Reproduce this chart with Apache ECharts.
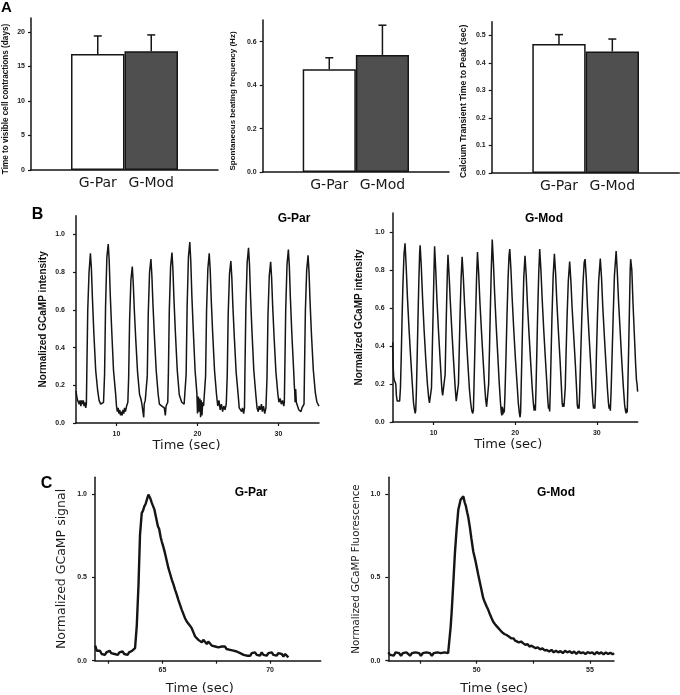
<!DOCTYPE html>
<html><head><meta charset="utf-8">
<script src="https://cdn.jsdelivr.net/npm/echarts@6/dist/echarts.min.js"></script>
<style>html,body{margin:0;padding:0;background:#fff}#c{width:680px;height:695px}</style>
</head><body><div id="c"></div>
<script>
// ---------- DATA ----------
const barCategories = ['G-Par', 'G-Mod'];
const daysMean = [16.8, 17.2];
const daysErr = [2.6, 2.35];
const freqMean = [0.473, 0.539];
const freqErr = [0.053, 0.137];
const peakMean = [0.469, 0.442];
const peakErr = [0.034, 0.045];

const daysTicks = [0, 5, 10, 15, 20];
const freqTicks = [0, 0.2, 0.4, 0.6];
const peakTicks = [0, 0.1, 0.2, 0.3, 0.4, 0.5];
const trainYTicks = [0, 0.2, 0.4, 0.6, 0.8, 1.0];
const trainXTicks = [10, 20, 30];
const singleYTicks = [0, 0.5, 1.0];
const parSingleXLabels = [65, 70];
const parSingleXTicks = [62.5, 65, 67.5, 70];
const modSingleXLabels = [50, 55];
const modSingleXTicks = [47.5, 50, 52.5, 55];

// G-Par beating trace [time s, normalized intensity]
const parTrain = [
[5.0,0.17],[5.1,0.14],[5.2,0.12],[5.3,0.13],[5.4,0.10],[5.5,0.12],[5.6,0.09],[5.7,0.12],[5.8,0.10],[5.9,0.12],[6.0,0.09],[6.1,0.11],[6.2,0.08],[6.28,0.10],
[6.33,0.25],[6.45,0.60],[6.61,0.80],[6.78,0.90],[6.9,0.82],[7.03,0.66],[7.2,0.48],[7.43,0.28],[7.68,0.17],[7.85,0.12],[7.95,0.12],[8.05,0.10],[8.15,0.11],[8.25,0.09],[8.4,0.11],
[8.53,0.26],[8.65,0.62],[8.81,0.88],[8.98,0.95],[9.1,0.86],[9.23,0.68],[9.4,0.50],[9.63,0.28],[9.88,0.16],[10.0,0.09],[10.1,0.06],[10.2,0.08],[10.3,0.05],[10.4,0.07],[10.5,0.04],[10.6,0.06],[10.7,0.04],[10.8,0.07],[10.9,0.05],[11.0,0.08],[11.1,0.06],[11.25,0.09],[11.4,0.11],
[11.5,0.24],[11.62,0.55],[11.78,0.76],[11.95,0.83],[12.07,0.74],[12.2,0.60],[12.37,0.45],[12.6,0.27],[12.85,0.15],[13.0,0.13],[13.1,0.11],[13.2,0.12],[13.3,0.10],[13.36,0.03],[13.42,0.10],[13.55,0.12],[13.7,0.11],
[13.8,0.25],[13.92,0.58],[14.08,0.80],[14.25,0.87],[14.37,0.78],[14.5,0.63],[14.67,0.47],[14.9,0.28],[15.15,0.15],[15.3,0.10],[15.45,0.11],[15.6,0.09],[15.75,0.10],[15.9,0.08],[16.03,0.04],[16.12,0.09],[16.25,0.10],[16.33,0.11],
[16.4,0.25],[16.52,0.60],[16.68,0.83],[16.85,0.905],[16.97,0.81],[17.1,0.65],[17.27,0.48],[17.5,0.28],[17.75,0.15],[17.9,0.13],[18.05,0.11],[18.2,0.12],[18.35,0.10],[18.5,0.11],
[18.6,0.26],[18.72,0.62],[18.88,0.88],[19.05,0.96],[19.17,0.86],[19.3,0.68],[19.47,0.50],[19.7,0.28],[19.92,0.16],[20.0,0.05],[20.1,0.14],[20.2,0.06],[20.3,0.13],[20.38,0.03],[20.45,0.12],[20.55,0.04],[20.65,0.11],[20.75,0.09],[20.9,0.10],
[21.0,0.25],[21.12,0.60],[21.28,0.82],[21.45,0.90],[21.57,0.81],[21.7,0.65],[21.87,0.48],[22.1,0.28],[22.35,0.15],[22.5,0.09],[22.65,0.12],[22.8,0.07],[22.95,0.10],[23.1,0.06],[23.25,0.09],[23.4,0.07],[23.55,0.10],
[23.67,0.25],[23.79,0.58],[23.95,0.79],[24.12,0.86],[24.24,0.77],[24.37,0.62],[24.54,0.46],[24.77,0.27],[25.02,0.15],[25.15,0.08],[25.3,0.09],[25.45,0.06],[25.55,0.08],[25.7,0.05],[25.8,0.08],
[25.85,0.25],[25.97,0.61],[26.13,0.85],[26.3,0.93],[26.42,0.84],[26.55,0.67],[26.72,0.49],[26.95,0.28],[27.2,0.15],[27.35,0.08],[27.5,0.06],[27.6,0.09],[27.75,0.07],[27.9,0.10],[28.0,0.06],[28.15,0.09],[28.3,0.05],[28.45,0.08],[28.52,0.07],
[28.58,0.24],[28.7,0.57],[28.86,0.78],[29.03,0.855],[29.15,0.77],[29.28,0.62],[29.45,0.46],[29.68,0.27],[29.93,0.15],[30.05,0.11],[30.2,0.13],[30.35,0.10],[30.5,0.12],[30.65,0.09],[30.72,0.11],
[30.77,0.25],[30.89,0.60],[31.05,0.84],[31.22,0.92],[31.34,0.83],[31.47,0.66],[31.64,0.48],[31.87,0.28],[31.95,0.20],[32.0,0.17],[32.05,0.11],[32.12,0.18],[32.2,0.11],[32.35,0.09],[32.5,0.07],[32.65,0.08],[32.76,0.06],[32.9,0.08],[33.05,0.09],[33.15,0.10],
[33.2,0.25],[33.32,0.60],[33.48,0.81],[33.65,0.89],[33.77,0.80],[33.9,0.64],[34.07,0.47],[34.3,0.28],[34.55,0.16],[34.75,0.11],[34.9,0.10],[35.0,0.09]
];

// G-Mod beating trace [time s, normalized intensity]
const modTrain = [
[5.0,0.42],[5.05,0.30],[5.12,0.24],[5.2,0.22],[5.3,0.21],[5.38,0.20],[5.45,0.14],[5.55,0.11],[5.65,0.12],[5.75,0.10],[5.85,0.11],
[5.95,0.18],[6.05,0.35],[6.15,0.55],[6.25,0.72],[6.38,0.88],[6.51,0.94],[6.65,0.82],[6.8,0.66],[7.0,0.49],[7.2,0.34],[7.4,0.20],[7.55,0.10],[7.65,0.07],[7.75,0.045],[7.82,0.06],
[7.9,0.16],[8.0,0.35],[8.1,0.55],[8.2,0.74],[8.3,0.89],[8.36,0.93],[8.5,0.82],[8.65,0.66],[8.85,0.48],[9.05,0.33],[9.25,0.20],[9.4,0.13],[9.5,0.10],[9.6,0.11],[9.68,0.09],
[9.75,0.18],[9.85,0.38],[9.95,0.58],[10.05,0.78],[10.13,0.925],[10.27,0.80],[10.42,0.64],[10.62,0.47],[10.82,0.32],[10.98,0.20],[11.05,0.16],[11.12,0.14],[11.2,0.15],[11.28,0.13],[11.35,0.14],
[11.42,0.25],[11.5,0.42],[11.6,0.62],[11.7,0.80],[11.77,0.88],[11.92,0.76],[12.07,0.62],[12.27,0.46],[12.47,0.31],[12.65,0.18],[12.78,0.11],[12.86,0.10],[12.95,0.11],
[13.05,0.20],[13.15,0.38],[13.25,0.57],[13.38,0.76],[13.5,0.87],[13.65,0.76],[13.8,0.62],[14.0,0.46],[14.2,0.31],[14.4,0.17],[14.55,0.10],[14.68,0.06],[14.8,0.045],[14.88,0.06],
[14.95,0.18],[15.05,0.36],[15.15,0.55],[15.27,0.76],[15.38,0.895],[15.53,0.78],[15.68,0.63],[15.88,0.47],[16.08,0.32],[16.25,0.20],[16.38,0.12],[16.5,0.08],[16.6,0.09],[16.68,0.08],
[16.75,0.20],[16.85,0.38],[16.95,0.58],[17.07,0.80],[17.19,0.96],[17.33,0.84],[17.48,0.68],[17.68,0.50],[17.88,0.34],[18.05,0.20],[18.2,0.10],[18.3,0.05],[18.36,0.035],[18.42,0.08],[18.5,0.04],[18.58,0.07],[18.66,0.05],
[18.75,0.15],[18.87,0.34],[18.99,0.55],[19.13,0.76],[19.25,0.88],[19.34,0.91],[19.48,0.80],[19.63,0.65],[19.83,0.48],[20.03,0.33],[20.23,0.20],[20.38,0.10],[20.5,0.05],[20.6,0.025],[20.66,0.05],
[20.73,0.18],[20.83,0.37],[20.93,0.56],[21.05,0.76],[21.2,0.875],[21.35,0.77],[21.5,0.62],[21.7,0.46],[21.9,0.31],[22.08,0.18],[22.22,0.10],[22.32,0.06],[22.4,0.09],[22.47,0.06],
[22.55,0.18],[22.65,0.37],[22.75,0.57],[22.88,0.78],[23.0,0.91],[23.15,0.80],[23.3,0.65],[23.5,0.48],[23.7,0.33],[23.88,0.20],[24.0,0.11],[24.08,0.07],[24.15,0.09],[24.22,0.055],
[24.3,0.17],[24.4,0.36],[24.5,0.55],[24.65,0.77],[24.8,0.885],[24.95,0.78],[25.1,0.63],[25.3,0.47],[25.5,0.32],[25.65,0.19],[25.75,0.10],[25.82,0.08],[25.9,0.10],[25.97,0.08],[26.05,0.09],
[26.13,0.18],[26.23,0.36],[26.35,0.55],[26.5,0.74],[26.67,0.845],[26.82,0.74],[26.97,0.60],[27.17,0.45],[27.37,0.30],[27.52,0.17],[27.6,0.09],[27.68,0.07],[27.75,0.09],[27.82,0.07],
[27.9,0.16],[28.02,0.35],[28.15,0.54],[28.3,0.73],[28.45,0.84],[28.56,0.857],[28.7,0.76],[28.85,0.61],[29.05,0.45],[29.25,0.30],[29.42,0.17],[29.52,0.10],[29.6,0.07],[29.68,0.09],[29.75,0.07],
[29.85,0.17],[29.95,0.36],[30.07,0.55],[30.22,0.74],[30.42,0.86],[30.57,0.76],[30.72,0.61],[30.92,0.45],[31.12,0.30],[31.3,0.17],[31.42,0.10],[31.5,0.07],[31.58,0.09],[31.65,0.06],
[31.75,0.17],[31.87,0.36],[32.0,0.56],[32.15,0.77],[32.36,0.90],[32.5,0.79],[32.65,0.64],[32.85,0.48],[33.05,0.32],[33.25,0.18],[33.4,0.09],[33.5,0.06],[33.58,0.045],[33.65,0.07],[33.72,0.05],
[33.8,0.20],[33.9,0.40],[34.0,0.62],[34.08,0.80],[34.14,0.857],[34.28,0.80],[34.43,0.62],[34.6,0.45],[34.75,0.30],[34.85,0.22],[34.92,0.20],[34.97,0.17],[35.0,0.16]
];

// Single transients [time s, normalized signal]
const parSingle = [
[61.88,0.09],[61.95,0.06],[62.02,0.05],[62.1,0.06],[62.18,0.04],[62.25,0.05],[62.33,0.035],[62.4,0.05],[62.48,0.04],[62.55,0.06],[62.62,0.045],[62.7,0.055],[62.78,0.04],[62.85,0.05],[62.93,0.035],[63.0,0.05],[63.08,0.04],[63.15,0.055],[63.23,0.04],[63.3,0.05],[63.38,0.035],[63.45,0.05],[63.53,0.045],[63.6,0.06],[63.68,0.05],
[63.73,0.075],[63.81,0.21],[63.89,0.455],[63.96,0.755],[64.04,0.885],[64.1,0.90],[64.16,0.926],[64.22,0.94],[64.28,0.966],[64.35,0.996],[64.43,0.976],[64.5,0.95],[64.54,0.936],[64.63,0.906],[64.71,0.856],[64.79,0.806],[64.85,0.79],[64.92,0.74],[64.97,0.715],
[65.05,0.68],[65.12,0.645],[65.2,0.60],[65.28,0.555],[65.36,0.52],[65.44,0.485],[65.52,0.455],[65.59,0.425],[65.67,0.395],[65.74,0.365],[65.82,0.335],[65.9,0.305],[65.95,0.30],[66.05,0.255],[66.1,0.26],[66.13,0.235],[66.21,0.225],[66.28,0.21],[66.36,0.195],[66.44,0.17],[66.52,0.145],
[66.6,0.14],[66.67,0.125],[66.75,0.13],[66.83,0.11],[66.9,0.125],[66.98,0.115],[67.06,0.10],[67.13,0.115],[67.21,0.105],[67.3,0.09],[67.37,0.10],[67.45,0.085],[67.53,0.095],[67.6,0.08],[67.68,0.09],[67.76,0.085],[67.84,0.075],[67.91,0.085],[67.98,0.07],[68.06,0.075],[68.14,0.065],[68.22,0.075],[68.3,0.06],[68.38,0.07],[68.45,0.055],
[68.53,0.05],[68.61,0.045],[68.69,0.044],[68.77,0.035],[68.84,0.045],[68.92,0.03],[69.0,0.04],[69.08,0.03],[69.15,0.045],[69.23,0.035],[69.3,0.05],[69.38,0.035],[69.46,0.045],[69.53,0.03],[69.61,0.05],[69.69,0.035],[69.77,0.045],[69.84,0.03],[69.92,0.045],[70.0,0.035],[70.08,0.05],[70.15,0.035],[70.23,0.045],[70.31,0.03],[70.38,0.045],[70.46,0.035],[70.54,0.04],[70.62,0.025],[70.7,0.04],[70.77,0.03],[70.85,0.02]
];
const modSingle = [
[46.1,0.05],[46.18,0.035],[46.26,0.045],[46.34,0.03],[46.42,0.05],[46.5,0.04],[46.58,0.045],[46.66,0.03],[46.74,0.045],[46.82,0.035],[46.9,0.05],[46.98,0.04],[47.06,0.03],[47.14,0.045],[47.22,0.035],[47.3,0.05],[47.38,0.04],[47.46,0.045],[47.54,0.03],[47.62,0.045],[47.7,0.035],[47.78,0.05],[47.86,0.04],[47.94,0.045],[48.02,0.03],[48.1,0.045],[48.18,0.035],[48.26,0.05],[48.34,0.04],[48.42,0.045],[48.5,0.035],[48.58,0.05],[48.66,0.04],[48.74,0.045],[48.79,0.05],
[48.85,0.20],[48.9,0.30],[48.97,0.47],[49.04,0.645],[49.11,0.78],[49.19,0.906],[49.29,0.965],[49.35,0.975],[49.41,0.986],[49.47,0.95],[49.52,0.93],[49.58,0.89],[49.63,0.86],[49.7,0.80],[49.77,0.73],[49.85,0.655],[49.92,0.615],[49.96,0.59],
[50.07,0.515],[50.14,0.47],[50.22,0.42],[50.29,0.375],[50.36,0.35],[50.44,0.325],[50.51,0.305],[50.58,0.28],[50.66,0.255],[50.73,0.234],[50.83,0.215],[50.93,0.20],[51.03,0.184],[51.13,0.17],[51.22,0.16],[51.32,0.154],[51.42,0.145],[51.52,0.135],[51.62,0.134],[51.7,0.12],[51.78,0.125],[51.86,0.11],[51.96,0.115],
[52.06,0.104],[52.15,0.095],[52.24,0.10],[52.33,0.085],[52.42,0.09],[52.5,0.084],[52.6,0.075],[52.7,0.08],[52.8,0.068],[52.9,0.074],[53.0,0.062],[53.09,0.064],[53.2,0.055],[53.3,0.065],[53.4,0.05],[53.5,0.06],[53.6,0.05],[53.7,0.058],[53.8,0.045],[53.9,0.06],
[54.0,0.05],[54.1,0.057],[54.2,0.045],[54.3,0.055],[54.4,0.04],[54.5,0.055],[54.6,0.045],[54.7,0.05],[54.8,0.04],[54.9,0.052],[55.0,0.045],[55.1,0.05],[55.2,0.038],[55.3,0.052],[55.4,0.042],[55.5,0.05],[55.6,0.038],[55.7,0.05],[55.8,0.04],[55.9,0.048],[56.0,0.038],[56.06,0.045]
];

// ---------- BUILD ----------
const SANS = 'Liberation Sans';
const INK = '#151515';
const axisLine = { show: true, lineStyle: { color: INK, width: 1.5 } };
const tickStyle = { color: INK, width: 1.2 };
const fmtInt = v => String(v);
const fmt1 = v => v.toFixed(1);

const grids = [], xAxes = [], yAxes = [], series = [];

function errRender(params, api) {
  const x = api.value(0);
  const p0 = api.coord([x, api.value(1)]);
  const p1 = api.coord([x, api.value(2)]);
  const s = { stroke: INK, lineWidth: 1.5 };
  return { type: 'group', children: [
    { type: 'line', shape: { x1: p0[0], y1: p0[1], x2: p1[0], y2: p1[1] }, style: s },
    { type: 'line', shape: { x1: p1[0] - 4, y1: p1[1], x2: p1[0] + 4, y2: p1[1] }, style: s }
  ]};
}

function tickLabel(vals, fmt, margin) {
  return { customValues: vals, formatter: fmt, fontFamily: SANS, fontWeight: 'bold', fontSize: 7, color: '#222', margin: margin };
}

function addBarPanel(o) {
  const g = grids.length;
  grids.push({ left: o.left, top: o.top, width: o.width, height: o.height, outerBoundsMode: 'none' });
  grids.push({ left: o.barLeft, top: o.top, width: o.barWidth, height: o.height, outerBoundsMode: 'none' });
  const xi = xAxes.length;
  xAxes.push({ type: 'value', gridIndex: g, min: 0, max: 1, axisLine: axisLine, axisTick: { show: false }, axisLabel: { show: false }, splitLine: { show: false } });
  xAxes.push({ type: 'category', gridIndex: g + 1, data: barCategories, boundaryGap: true,
    axisLine: { show: false }, axisTick: { show: false },
    axisLabel: { interval: 0, hideOverlap: false, fontFamily: 'DejaVu Sans', fontSize: 14, color: '#1a1a1a', margin: 6 } });
  const yi = yAxes.length;
  yAxes.push({ type: 'value', gridIndex: g, min: 0, max: o.yMax, axisLine: axisLine,
    axisTick: { show: true, customValues: o.ticks, length: 3, lineStyle: tickStyle },
    axisLabel: tickLabel(o.ticks, o.fmt, 6), splitLine: { show: false },
    name: o.yName, nameLocation: 'middle', nameGap: o.nameGap,
    nameTextStyle: { fontFamily: SANS, fontWeight: 'bold', fontSize: o.nameSize, color: '#111', padding: [0, o.nameShift, 0, 0] } });
  yAxes.push({ type: 'value', gridIndex: g + 1, min: 0, max: o.yMax, show: false });
  series.push({ type: 'bar', xAxisIndex: xi + 1, yAxisIndex: yi + 1, barCategoryGap: '0%', barGap: '0%', silent: true,
    itemStyle: { borderColor: INK, borderWidth: 1.5, borderRadius: 0 },
    data: o.means.map((m, i) => ({ value: m, itemStyle: { color: i === 0 ? '#ffffff' : '#4f4f4f' } })) });
  series.push({ type: 'custom', xAxisIndex: xi + 1, yAxisIndex: yi + 1, z: 5, silent: true, renderItem: errRender,
    data: o.means.map((m, i) => [barCategories[i], m, m + o.errs[i]]) });
}

function addTracePanel(o) {
  const g = grids.length;
  grids.push({ left: o.left, top: o.top, width: o.width, height: o.height, outerBoundsMode: 'none' });
  const xi = xAxes.length;
  xAxes.push({ type: 'value', gridIndex: g, min: o.xMin, max: o.xMax, axisLine: axisLine,
    axisTick: { show: true, customValues: o.xTicks, length: 3, lineStyle: tickStyle },
    axisLabel: tickLabel(o.xLabels, fmtInt, o.xLabelMargin), splitLine: { show: false },
    name: 'Time (sec)', nameLocation: 'middle', nameGap: o.xNameGap,
    nameTextStyle: { fontFamily: 'DejaVu Sans', fontSize: 13, color: '#1a1a1a', padding: [0, o.xNameShift, 0, 0] } });
  const yi = yAxes.length;
  yAxes.push({ type: 'value', gridIndex: g, min: 0, max: 1.1, axisLine: axisLine,
    axisTick: { show: true, customValues: o.yTicks, length: 3, lineStyle: tickStyle },
    axisLabel: tickLabel(o.yTicks, fmt1, o.yLabelMargin), splitLine: { show: false },
    name: o.yName, nameLocation: 'middle', nameGap: o.yNameGap, nameTextStyle: o.yNameStyle });
  series.push({ type: 'line', xAxisIndex: xi, yAxisIndex: yi, data: o.data, showSymbol: false, symbol: 'none', silent: true,
    lineStyle: { color: INK, width: o.lineWidth }, emphasis: { disabled: true } });
}

addBarPanel({ left: 31, top: 18, width: 187, height: 152, barLeft: 71, barWidth: 107, yMax: 22, ticks: daysTicks, fmt: fmtInt,
  yName: 'Time to visible cell contractions (days)', nameSize: 8.2, nameGap: 21, nameShift: 10, means: daysMean, errs: daysErr });
addBarPanel({ left: 262.7, top: 20, width: 186.3, height: 152, barLeft: 302.7, barWidth: 106.3, yMax: 0.7, ticks: freqTicks, fmt: fmt1,
  yName: 'Spontaneous beating frequency (Hz)', nameSize: 8, nameGap: 26, nameShift: 10, means: freqMean, errs: freqErr });
addBarPanel({ left: 491.7, top: 21.7, width: 187.6, height: 151.3, barLeft: 532.3, barWidth: 106.7, yMax: 0.55, ticks: peakTicks, fmt: fmt1,
  yName: 'Calcium Transient Time to Peak (sec)', nameSize: 8.7, nameGap: 23.5, nameShift: 8, means: peakMean, errs: peakErr });

const boldName = { fontFamily: SANS, fontWeight: 'bold', fontSize: 10, color: '#111' };
addTracePanel({ left: 76, top: 215.7, width: 243, height: 207.3, xMin: 5, xMax: 35, xTicks: trainXTicks, xLabels: trainXTicks,
  xLabelMargin: 8, xNameGap: 16, xNameShift: 22, yTicks: trainYTicks, yLabelMargin: 11,
  yName: 'Normalized GCaMP intensity', yNameGap: 28, yNameStyle: boldName, data: parTrain, lineWidth: 1.5 });
addTracePanel({ left: 392.7, top: 213, width: 245, height: 209, xMin: 5, xMax: 35, xTicks: trainXTicks, xLabels: trainXTicks,
  xLabelMargin: 8, xNameGap: 16, xNameShift: 14, yTicks: trainYTicks, yLabelMargin: 8,
  yName: 'Normalized GCaMP intensity', yNameGap: 28, yNameStyle: boldName, data: modTrain, lineWidth: 1.5 });
addTracePanel({ left: 95, top: 477.3, width: 225.7, height: 183.4, xMin: 61.87, xMax: 72.35, xTicks: parSingleXTicks, xLabels: parSingleXLabels,
  xLabelMargin: 6, xNameGap: 21, xNameShift: 16, yTicks: singleYTicks, yLabelMargin: 8,
  yName: 'Normalized GCaMP signal', yNameGap: 27, yNameStyle: { fontFamily: 'DejaVu Sans', fontSize: 12.5, color: '#1a1a1a' }, data: parSingle, lineWidth: 2.4 });
addTracePanel({ left: 388.3, top: 477.3, width: 225.7, height: 183.4, xMin: 46.1, xMax: 56.06, xTicks: modSingleXTicks, xLabels: modSingleXLabels,
  xLabelMargin: 6, xNameGap: 21, xNameShift: 14, yTicks: singleYTicks, yLabelMargin: 8,
  yName: 'Normalized GCaMP Fluorescence', yNameGap: 27, yNameStyle: { fontFamily: 'DejaVu Sans', fontSize: 10.3, color: '#1a1a1a' }, data: modSingle, lineWidth: 2.4 });

function label(text, x, y, size) {
  return { type: 'text', x: x, y: y, silent: true,
    style: { text: text, fontFamily: SANS, fontWeight: 'bold', fontSize: size, fill: '#000',
      align: 'center', verticalAlign: 'middle', textAlign: 'center', textVerticalAlign: 'middle' } };
}

const chart = echarts.init(document.getElementById('c'), null, { renderer: 'canvas' });
chart.setOption({
  backgroundColor: '#ffffff',
  animation: false,
  grid: grids, xAxis: xAxes, yAxis: yAxes, series: series,
  graphic: [
    label('A', 6.5, 7.5, 15), label('B', 37.5, 215, 16), label('C', 46.5, 484, 16),
    label('G-Par', 294, 219, 12), label('G-Mod', 544, 219, 12),
    label('G-Par', 251, 493, 12), label('G-Mod', 556, 493, 12)
  ]
});
</script></body></html>
